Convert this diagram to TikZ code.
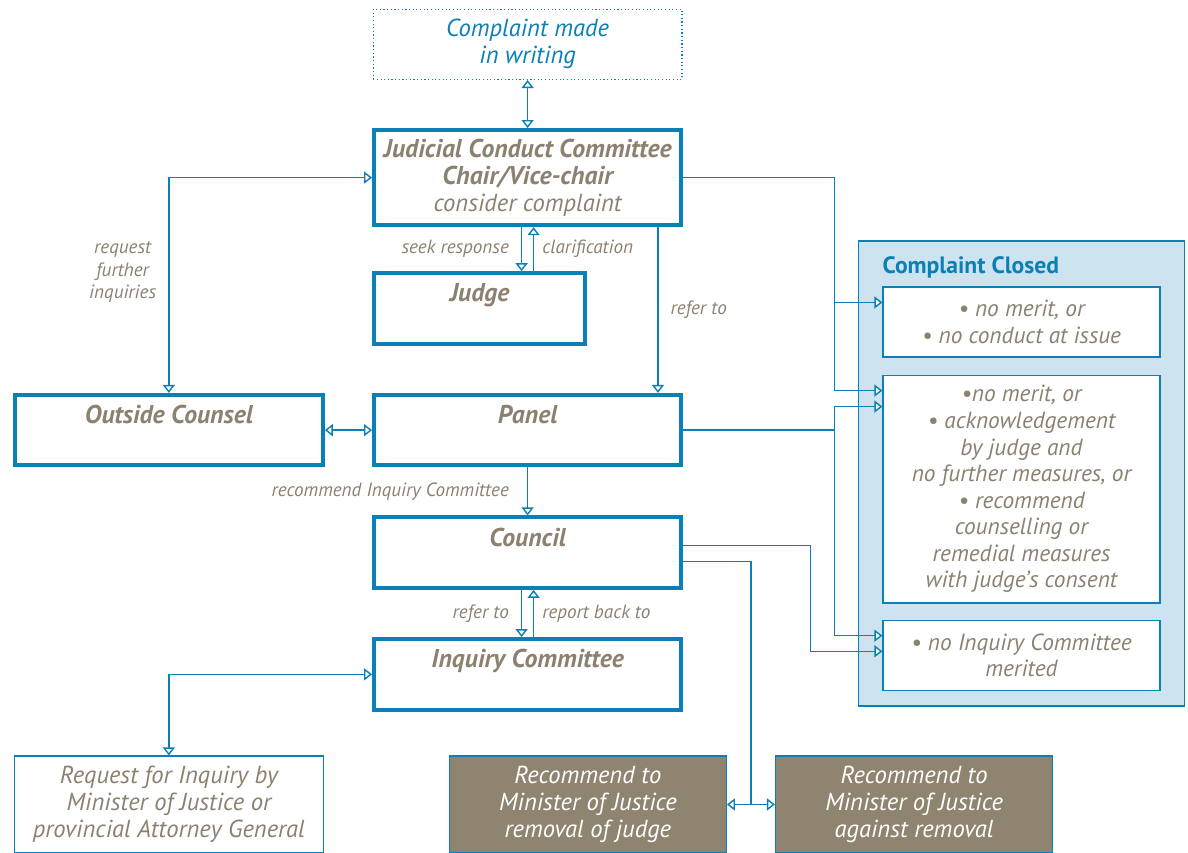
\documentclass[tikz,border=0pt]{standalone}
\usepackage{fontspec}
\setmainfont{PT Sans}
\usetikzlibrary{positioning,arrows.meta,fit,backgrounds,calc}

\definecolor{cjcblue}{HTML}{0A80B6}
\definecolor{cjctext}{HTML}{8C8170}
\definecolor{cjcbrown}{HTML}{8F8470}
\definecolor{cjcpale}{HTML}{CDE3F0}

\newcommand{\cjctitle}{\fontsize{18.3}{19.2}\selectfont\bfseries\itshape}
\newcommand{\cjcplain}{\fontsize{17.5}{19.2}\selectfont\mdseries\itshape}
\newcommand{\cjclist}{\fontsize{16.6}{18.9}\selectfont\itshape}
\newcommand{\cjcnote}{\fontsize{13.6}{16}\selectfont\itshape}
\newcommand{\cjcclosed}{\fontsize{16.8}{19}\selectfont\bfseries}

\begin{document}
\begin{tikzpicture}[
  mainbox/.style={draw=cjcblue, line width=2.8pt, minimum width=7.68cm, font=\cjctitle, text=cjctext},
  topbox/.style={mainbox, text height=0.6cm, text depth=0.93cm},
  thinbox/.style={draw=cjcblue, line width=1pt, align=center, font=\cjcplain, text=cjctext},
  closedbox/.style={thinbox, fill=white, minimum width=6.92cm, font=\cjclist},
  recbox/.style={thinbox, fill=cjcbrown, text=white, minimum width=6.92cm, minimum height=2.42cm},
  conn/.style={draw=cjcblue, line width=1pt},
  arr/.style={conn, -{Triangle[fill=white, length=0.2cm, width=0.3cm]}},
  dblarr/.style={conn, {Triangle[fill=white, length=0.2cm, width=0.3cm]}-{Triangle[fill=white, length=0.2cm, width=0.3cm]}},
  note/.style={font=\cjcnote, text=cjctext, align=center, inner sep=0.05cm},
  node distance=1.2cm]
	\useasboundingbox (0,0) rectangle (29.7,-21.3);

	% main column
	\node[mainbox, align=center, minimum height=2.38cm] (jcc) at (13.19,-4.44)
		{Judicial Conduct Committee\\Chair/Vice-chair\\{\cjcplain consider complaint}};
	\node[thinbox, dash pattern=on 0.8pt off 1.8pt, text=cjcblue, minimum width=7.72cm, minimum height=1.75cm, above=1.2cm of jcc] (complaint) {Complaint made\\in writing};
	\node[topbox, minimum width=5.28cm, below=1.1cm of jcc.south west, anchor=north west] (judge) {Judge};
	\node[topbox, below=1.18cm of judge.south west, anchor=north west] (panel) {Panel};
	\node[topbox, below=1.2cm of panel] (council) {Council};
	\node[topbox, below=1.18cm of council] (inquiry) {Inquiry Committee};
	\node[topbox, minimum width=7.7cm, left=1.18cm of panel] (outside) {Outside Counsel};

	% bottom row
	\node[thinbox, minimum width=7.72cm, minimum height=2.42cm, below=7.2cm of outside] (request) {Request for Inquiry by\\Minister of Justice or\\provincial Attorney General};
	\node[recbox, right=3.12cm of request] (removal) {Recommend to\\Minister of Justice\\removal of judge};
	\node[recbox, right=1.2cm of removal] (against) {Recommend to\\Minister of Justice\\against removal};

	% complaint closed
	\node[closedbox, minimum height=1.75cm, below right=1.48cm and 4.98cm of jcc.south east] (noMerit) {\textbullet\ no merit, or\\\textbullet\ no conduct at issue};
	\node[closedbox, minimum height=5.69cm, below=0.42cm of noMerit] (measures) {\textbullet no merit, or\\\textbullet\ acknowledgement\\by judge and\\no further measures, or\\\textbullet\ recommend\\counselling or\\remedial measures\\with judge’s consent};
	\node[closedbox, minimum height=1.75cm, below=0.4cm of measures] (noInquiry) {\textbullet\ no Inquiry Committee\\merited};
	\node[font=\cjcclosed, text=cjcblue, inner sep=0pt, above=0.33cm of noMerit.north west, anchor=base west] (closedlbl) {Complaint Closed};
	\begin{scope}[on background layer]
		\node[draw=cjcblue, line width=1pt, fill=cjcpale, inner xsep=0.6cm, inner ysep=0.38cm, fit=(closedlbl)(noMerit)(noInquiry)] (closed) {};
	\end{scope}

	\coordinate (c1) at ([yshift=0.49cm]noMerit.west);
	\coordinate (c2) at ([yshift=-0.4cm]measures.north west);
	\coordinate (c3) at ([yshift=-0.8cm]measures.north west);
	\coordinate (c4) at ([yshift=0.49cm]noInquiry.west);
	\coordinate (c5) at ([yshift=0.1cm]noInquiry.west);

	% connectors
	\draw[dblarr] (complaint) -- (jcc);
	\draw[arr] ([xshift=-0.15cm]jcc.south) -- ([xshift=-0.15cm]jcc.south |- judge.north) node[note, midway, left=0.25cm] {seek response};
	\draw[arr] ([xshift=0.15cm]jcc.south |- judge.north) -- ([xshift=0.15cm]jcc.south) node[note, midway, right=0.15cm] {clarification};
	\draw[arr] ([xshift=-0.63cm]jcc.south east) -- ([xshift=-0.63cm]panel.north east) node[note, midway, right=0.25cm] {refer to};
	\draw[dblarr] (jcc.west) -| (outside.north) node[note, pos=0.72, left=0.25cm] {request\\further\\inquiries};
	\draw[dblarr] (outside) -- (panel);
	\draw[arr] (panel) -- (council) node[note, midway, left=0.4cm] {recommend Inquiry Committee};
	\draw[arr] ([xshift=-0.15cm]council.south) -- ([xshift=-0.15cm]inquiry.north) node[note, midway, left=0.25cm] {refer to};
	\draw[arr] ([xshift=0.15cm]inquiry.north) -- ([xshift=0.15cm]council.south) node[note, midway, right=0.15cm] {report back to};
	\draw[dblarr] (inquiry.west) -| (request.north);

	\draw[arr] (jcc.east) -| ([xshift=-1.2cm]c2) -- (c2);
	\draw[arr] ([xshift=-1.2cm]c1) -- (c1);
	\draw[arr] (panel.east) -| ([xshift=-1.2cm]c3) -- (c3);
	\draw[arr] ([xshift=-1.2cm]c3) |- (c4);
	\draw[arr] ([yshift=0.18cm]council.east) -| ([xshift=-1.8cm]c5) -- (c5);
	\draw[conn] ([yshift=-0.22cm]council.east) -| ($(removal.east)!0.5!(against.west)$);
	\draw[dblarr] (removal) -- (against);
\end{tikzpicture}
\end{document}
